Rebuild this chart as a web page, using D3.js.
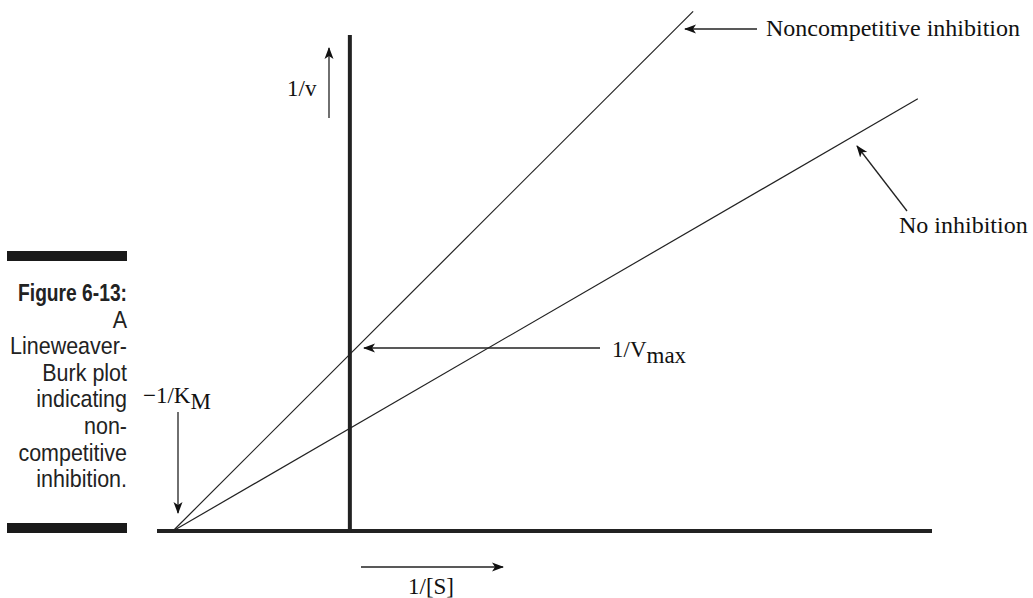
<!DOCTYPE html>
<meta charset="utf-8">
<head>
  <title>Lineweaver-Burk plot, noncompetitive inhibition</title>
  <script src="https://cdn.jsdelivr.net/npm/d3@7/dist/d3.min.js"></script>
  <style>
    body { margin: 0; background: #fff; }
    .serif { font-family: "Liberation Serif", "Times New Roman", serif; fill: #111; }
    .caption { font-family: "Liberation Sans", Arial, sans-serif; fill: #222; font-size: 24px; }
    .axis-line { stroke: #222; stroke-width: 4; }
    .series { stroke: #222; stroke-width: 1.2; fill: none; }
    .pointer { stroke: #222; stroke-width: 1.3; fill: none; }
  </style>
</head>
<body>
<div id="chart"></div>
<script>
// data (axis units: -1/KM = -1, 1/Vmax without inhibitor = 1)
var seriesNames = ["No inhibition", "Noncompetitive inhibition"];
var seriesX = [[-1, 3.21], [-1, 1.94]];
var seriesY = [[0, 4.20], [0, 5.05]];
var xDomain = [-1.09, 3.29];
var yDomain = [0, 4.82];
var captionTitle = "Figure 6-13:";
var captionLines = ["A", "Lineweaver-", "Burk plot", "indicating", "non-", "competitive", "inhibition."];

var w = 1033, h = 598;

var svg = d3.select("#chart").append("svg")
  .attr("width", w).attr("height", h);

svg.append("defs").append("marker")
  .attr("id", "head")
  .attr("viewBox", "0 -5 12 10")
  .attr("refX", 11).attr("refY", 0)
  .attr("markerWidth", 12).attr("markerHeight", 10)
  .attr("markerUnits", "userSpaceOnUse")
  .attr("orient", "auto")
  .append("path")
  .attr("d", "M0,-4.5L12,0L0,4.5L3,0Z")
  .attr("fill", "#111");

var x = d3.scaleLinear().domain(xDomain).range([157, 932]);
var y = d3.scaleLinear().domain(yDomain).range([531, 35]);

// axes (plain thick lines, no ticks)
svg.append("line").attr("class", "axis-line")
  .attr("x1", x(xDomain[0])).attr("x2", x(xDomain[1]))
  .attr("y1", y(0)).attr("y2", y(0));
svg.append("line").attr("class", "axis-line")
  .attr("x1", x(0)).attr("x2", x(0))
  .attr("y1", y(yDomain[1])).attr("y2", y(0) + 2);

// the two lines
var line = d3.line().x(d => x(d[0])).y(d => y(d[1]));
svg.selectAll("path.series")
  .data(seriesNames)
  .enter().append("path")
  .attr("class", "series")
  .attr("d", (d, i) => line(d3.zip(seriesX[i], seriesY[i])));

// pointer arrows
function arrow(x1, y1, x2, y2) {
  svg.append("line").attr("class", "pointer")
    .attr("x1", x1).attr("y1", y1).attr("x2", x2).attr("y2", y2)
    .attr("marker-end", "url(#head)");
}
arrow(329, 118, 329, 48);    // 1/v
arrow(757, 29, 685, 29);     // noncompetitive
arrow(907, 211, 857, 146);   // no inhibition
arrow(600, 348, 364, 348);   // 1/Vmax
arrow(178, 412, 178, 513);   // -1/KM
arrow(361, 567, 503, 567);   // 1/[S]

function label(tx, ty, txt, sub, size) {
  var t = svg.append("text").attr("class", "serif")
    .attr("x", tx).attr("y", ty).attr("font-size", size || 23).text(txt);
  if (sub) t.append("tspan").attr("dy", 6).text(sub);
}
label(287, 96, "1/v");
label(766, 36, seriesNames[1], null, 24);
label(899, 233, seriesNames[0], null, 24);
label(612, 357, "1/V", "max");
label(143, 403, "\u22121/K", "M");
label(408, 594, "1/[S]");

// figure caption on the left (condensed look via horizontal squeeze)
svg.append("rect").attr("x", 7).attr("y", 251).attr("width", 120).attr("height", 10).attr("fill", "#1a1a1a");
svg.append("rect").attr("x", 7).attr("y", 523).attr("width", 120).attr("height", 10).attr("fill", "#1a1a1a");

var cap = svg.append("g");
var title = cap.append("text").attr("class", "caption")
  .attr("text-anchor", "end").attr("font-weight", "bold")
  .attr("font-size", 25)
  .text(captionTitle);
var tw = title.node().getComputedTextLength();
title.attr("transform", "translate(127,301) scale(" + (109 / tw) + ",1)");

var rows = cap.selectAll("text.capline")
  .data(captionLines)
  .enter().append("text")
  .attr("class", "caption capline")
  .attr("text-anchor", "end")
  .text(d => d);
var refW = rows.filter(d => d === "Lineweaver-").node().getComputedTextLength();
var sx = 117 / refW;
rows.attr("transform", (d, i) => "translate(127," + (327.5 + i * 26.6) + ") scale(" + sx + ",1)");
</script>
</body>
